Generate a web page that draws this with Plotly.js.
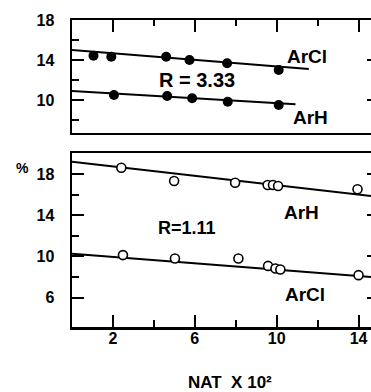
<!DOCTYPE html>
<html>
<head>
<meta charset="utf-8">
<script src="https://cdn.plot.ly/plotly-3.0.1.min.js"></script>
<style>
html,body{margin:0;padding:0;overflow:hidden;background:#fff;width:371px;height:392px;}
#chart{width:380px;height:392px;}
</style>
</head>
<body>
<div id="chart"></div>
<script>
// Top panel (R = 3.33), filled circles
var topArClX = [1.05, 1.92, 4.6, 5.74, 7.58, 10.1];
var topArClY = [14.43, 14.33, 14.33, 14.0, 13.67, 13.0];
var topArHX = [2.05, 4.65, 5.87, 7.61, 10.1];
var topArHY = [10.5, 10.4, 10.17, 9.83, 9.5];
var topArClFitX = [0, 11.57];
var topArClFitY = [15.0, 13.1];
var topArHFitX = [0, 10.92];
var topArHFitY = [10.9, 9.57];

// Bottom panel (R = 1.11), open circles
var botArHX = [2.41, 4.99, 7.97, 9.56, 9.82, 10.07, 13.95];
var botArHY = [18.64, 17.35, 17.18, 16.96, 16.96, 16.86, 16.54];
var botArClX = [2.49, 5.03, 8.13, 9.58, 9.94, 10.18, 14.0];
var botArClY = [10.13, 9.80, 9.80, 9.08, 8.83, 8.73, 8.18];
var botArHFitX = [0, 15];
var botArHFitY = [19.23, 15.79];
var botArClFitX = [0, 15];
var botArClFitY = [10.26, 7.94];

var xTickVals = [2, 6, 10, 14];
var xTickText = ['2', '6', '10', '14'];
var xMinorVals = [4, 8, 12];
var yTopTickVals = [10, 14, 18];
var yBotTickVals = [6, 10, 14, 18];
var yMinorVals = [8, 12, 16];

var FONT = 'Liberation Sans, Arial, sans-serif';
var lineStyle = {color: '#000', width: 2};
var filled = {symbol: 'circle', size: 10, color: '#000'};
var open = {symbol: 'circle', size: 9, color: '#fff', line: {width: 1.6, color: '#000'}};

var traces = [
  {x: topArClFitX, y: topArClFitY, xaxis: 'x2', yaxis: 'y2', mode: 'lines', line: lineStyle},
  {x: topArHFitX, y: topArHFitY, xaxis: 'x2', yaxis: 'y2', mode: 'lines', line: lineStyle},
  {x: topArClX, y: topArClY, xaxis: 'x2', yaxis: 'y2', mode: 'markers', marker: filled},
  {x: topArHX, y: topArHY, xaxis: 'x2', yaxis: 'y2', mode: 'markers', marker: filled},
  {x: botArHFitX, y: botArHFitY, xaxis: 'x', yaxis: 'y', mode: 'lines', line: lineStyle},
  {x: botArClFitX, y: botArClFitY, xaxis: 'x', yaxis: 'y', mode: 'lines', line: lineStyle},
  {x: botArHX, y: botArHY, xaxis: 'x', yaxis: 'y', mode: 'markers', marker: open},
  {x: botArClX, y: botArClY, xaxis: 'x', yaxis: 'y', mode: 'markers', marker: open}
];

var axisCommon = {
  showgrid: false, zeroline: false, showline: true, linecolor: '#000', linewidth: 2.5,
  ticks: 'inside', ticklen: 12, tickwidth: 2, tickcolor: '#000',
  tickfont: {family: FONT, size: 16, color: '#000', weight: 'bold'}
};
function ax(extra) { return Object.assign({}, axisCommon, extra); }
function minor(vals, len) {
  return {tickmode: 'array', tickvals: vals, ticks: 'inside', ticklen: len, tickwidth: 2, tickcolor: '#000', showgrid: false};
}

var txt = function (size) { return {family: FONT, size: size, color: '#000', weight: 'bold'}; };

var layout = {
  width: 380, height: 392,
  margin: {l: 72, r: 1, t: 20, b: 65},
  paper_bgcolor: '#fff', plot_bgcolor: '#fff',
  showlegend: false,
  font: {family: FONT, color: '#000'},
  xaxis: ax({domain: [0, 1], range: [0, 15], anchor: 'y', mirror: true,
    tickmode: 'array', tickvals: xTickVals, ticktext: xTickText, ticklabelstandoff: -5,
    minor: minor(xMinorVals, 7)}),
  yaxis: ax({domain: [0, 0.566], range: [3.13, 20.05], anchor: 'x', mirror: 'ticks',
    tickmode: 'array', tickvals: yBotTickVals, ticklabelstandoff: 12,
    minor: minor(yMinorVals, 7)}),
  xaxis2: ax({domain: [0, 1], range: [0, 15], anchor: 'y2', side: 'top', mirror: true,
    tickmode: 'array', tickvals: xTickVals, showticklabels: false,
    minor: minor(xMinorVals, 6)}),
  yaxis2: ax({domain: [0.633, 1], range: [6.73, 18], anchor: 'x2', mirror: 'ticks',
    tickmode: 'array', tickvals: yTopTickVals, ticklabelstandoff: 12,
    minor: minor(yMinorVals, 7)}),
  annotations: [
    {text: 'ArCl', x: 11.5, y: 14.3, xref: 'x2', yref: 'y2', showarrow: false, font: txt(19)},
    {text: 'R = 3.33', x: 6.13, y: 12.0, xref: 'x2', yref: 'y2', showarrow: false, font: txt(20)},
    {text: 'ArH', x: 11.63, y: 8.25, xref: 'x2', yref: 'y2', showarrow: false, font: txt(19)},
    {text: 'ArH', x: 11.22, y: 14.32, xref: 'x', yref: 'y', showarrow: false, font: txt(19)},
    {text: 'R=1.11', x: 5.62, y: 12.81, xref: 'x', yref: 'y', showarrow: false, font: txt(18)},
    {text: 'ArCl', x: 11.38, y: 6.32, xref: 'x', yref: 'y', showarrow: false, font: txt(19)},
    {text: '%', x: -0.19, y: 18.6, xref: 'paper', yref: 'y', showarrow: false, font: txt(14)},
    {text: 'NAT\u00a0\u00a0X\u00a010\u00b2', x: 7.72, y: -0.18, xref: 'x', yref: 'paper', yanchor: 'middle', showarrow: false, font: txt(17)}
  ]
};

Plotly.newPlot('chart', traces, layout, {displayModeBar: false, staticPlot: true});
</script>
</body>
</html>
